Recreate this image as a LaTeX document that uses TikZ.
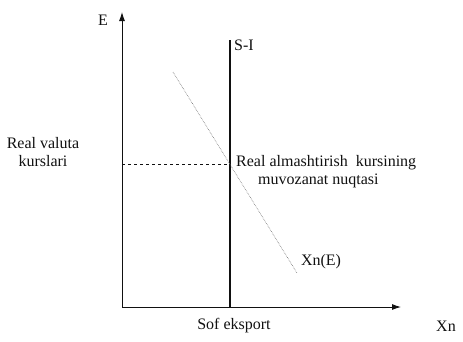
\documentclass[tikz,border=0pt]{standalone}
\usepackage{fontspec}
\setmainfont{Liberation Serif}
\usetikzlibrary{arrows.meta, positioning}
\definecolor{schwarz}{HTML}{111111}
\definecolor{grau}{HTML}{6E6E6E}

\begin{document}
\begin{tikzpicture}[x=1pt, y=-1pt, every node/.style={font=\fontsize{16}{18}\selectfont, text=schwarz},
    achse/.style={draw=schwarz, line width=0.9pt, -{Latex[length=9pt, width=6pt]}},
    kurve/.style={draw=grau, line width=0.6pt, densely dotted}]
      \useasboundingbox (0,0) rectangle (463,341);
      % Achsen
      \coordinate (O) at (122,307);
      \coordinate (Eend) at (122,12);
      \coordinate (Xend) at (401,307);
      \draw[achse] (O) -- (Eend);
      \draw[achse] (O) -- (Xend);
      \node (E) at (103,20) {E};
      \node (Xn) at (446,326) {Xn};
      \node (sof) at (234,326) {Sof eksport};
      % S-I
      \coordinate (SItop) at (230,40);
      \coordinate (SIbot) at (230,307);
      \draw[schwarz, line width=1.2pt] (SIbot) -- (SItop);
      \node (SI) at (244,45) {S-I};
      % Xn(E)
      \coordinate (Xa) at (173,72);
      \coordinate (Xb) at (297,273);
      \draw[kurve] (Xa) -- (Xb);
      \node (XnE) at (321,262) {Xn(E)};
      % Gleichgewicht
      \coordinate (eq) at (230,164);
      \draw[schwarz, line width=0.6pt, dashed] (O |- eq) -- (eq);
      \node (rvk) at (43,152) [align=center] {Real valuta\\kurslari};
      \node (gg) at (236,164) [anchor=north west, inner sep=0pt, yshift=9pt, align=left]
        {Real almashtirish\ \ kursining\\\hspace*{22pt}muvozanat nuqtasi};
    \end{tikzpicture}
\end{document}
